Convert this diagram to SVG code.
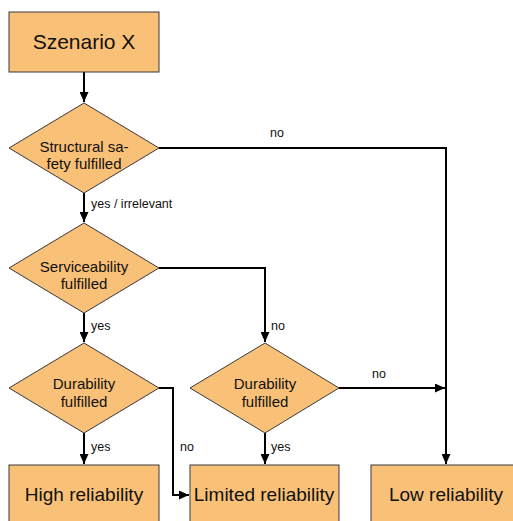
<svg xmlns="http://www.w3.org/2000/svg" width="513" height="521" viewBox="0 0 513 521">
<defs>
<style>
.box{fill:#F9C077;stroke:#3a3a3a;stroke-width:1}
.t{font-family:"Liberation Sans",Arial,sans-serif;fill:#111;text-anchor:middle}
.big{font-size:19px}
.mid{font-size:15px}
.lbl{font-family:"Liberation Sans",Arial,sans-serif;font-size:12.5px;fill:#111}
.c{fill:none;stroke:#000;stroke-width:2}
</style>
<marker id="ah" markerWidth="10" markerHeight="9" refX="10" refY="4.5" orient="auto" markerUnits="userSpaceOnUse">
<path d="M0,0 L10,4.5 L0,9 Z" fill="#000"/>
</marker>
</defs>
<rect width="513" height="521" fill="#fff"/>
<g id="connectors">
<path class="c" d="M84,72 V102" marker-end="url(#ah)"/>
<path class="c" d="M159,148 H446 V464" marker-end="url(#ah)"/>
<path class="c" d="M84,193 V222" marker-end="url(#ah)"/>
<path class="c" d="M159,268 H265 V342" marker-end="url(#ah)"/>
<path class="c" d="M84,313 V342" marker-end="url(#ah)"/>
<path class="c" d="M84,433 V464" marker-end="url(#ah)"/>
<path class="c" d="M159,388 H173 V495 H189" marker-end="url(#ah)"/>
<path class="c" d="M265,433 V464" marker-end="url(#ah)"/>
<path class="c" d="M339,388 H445" marker-end="url(#ah)"/>
<text class="lbl" x="270" y="137">no</text>
<text class="lbl" x="91" y="208">yes / irrelevant</text>
<text class="lbl" x="91" y="330">yes</text>
<text class="lbl" x="271" y="330">no</text>
<text class="lbl" x="91" y="451">yes</text>
<text class="lbl" x="180" y="451">no</text>
<text class="lbl" x="271" y="451">yes</text>
<text class="lbl" x="372" y="378">no</text>
</g>
<g id="scenario">
<rect class="box" x="9" y="12" width="150" height="60"/>
<text class="t" x="84" y="49" font-size="21">Szenario X</text>
</g>
<g id="structural">
<polygon class="box" points="84,103 159,148 84,193 9,148"/>
<text class="t mid" x="84" y="152">Structural sa-</text>
<text class="t mid" x="84" y="169">fety fulfilled</text>
</g>
<g id="serviceability">
<polygon class="box" points="84,223 159,268 84,313 9,268"/>
<text class="t mid" x="84" y="272">Serviceability</text>
<text class="t mid" x="84" y="289">fulfilled</text>
</g>
<g id="durability1">
<polygon class="box" points="84,343 159,388 84,433 9,388"/>
<text class="t mid" x="84" y="389">Durability</text>
<text class="t mid" x="84" y="407">fulfilled</text>
</g>
<g id="durability2">
<polygon class="box" points="265,343 339,388 265,433 190,388"/>
<text class="t mid" x="265" y="389">Durability</text>
<text class="t mid" x="265" y="407">fulfilled</text>
</g>
<g id="high">
<rect class="box" x="9" y="465" width="150" height="60"/>
<text class="t big" x="84" y="501">High reliability</text>
</g>
<g id="limited">
<rect class="box" x="190" y="465" width="149" height="60"/>
<text class="t big" x="264" y="501">Limited reliability</text>
</g>
<g id="low">
<rect class="box" x="371" y="465" width="150" height="60"/>
<text class="t big" x="446" y="501">Low reliability</text>
</g>
</svg>
